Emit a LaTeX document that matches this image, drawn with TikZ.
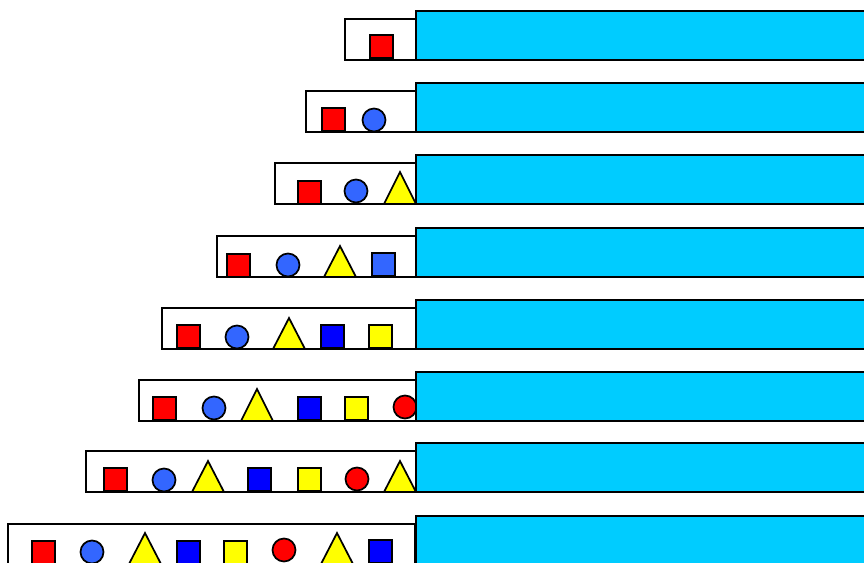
\documentclass[tikz,border=0pt]{standalone}
\definecolor{cyanbar}{HTML}{00CCFF}
\definecolor{ltblue}{HTML}{3366FF}
\definecolor{pureblue}{HTML}{0000FF}
\definecolor{pureyellow}{HTML}{FFFF00}
\definecolor{purered}{HTML}{FF0000}
\tikzset{
  framebox/.style={draw=black, fill=white, line width=1.5pt},
  bar/.style={draw=black, fill=cyanbar, line width=1.5pt},
  shp/.style={draw=black, line width=1.3pt, line join=miter},
}
\newcommand{\mysq}[3]{\draw[shp, fill=#3] (#1,#2) rectangle ++(23,23);}
\newcommand{\mycirc}[3]{\draw[shp, fill=#3] (#1,#2) circle[radius=11.5];}
\newcommand{\mytri}[3]{\draw[shp, fill=pureyellow] (#1,#2) -- (#1+16,#3) -- (#1-16,#3) -- cycle;}
\newcommand{\myrow}[4]{\draw[framebox] (#1,#2) rectangle (416,#3); \draw[bar] (416,#4) rectangle (880,#3);}
\begin{document}
\begin{tikzpicture}[x=0.75pt,y=-0.75pt]
\useasboundingbox (0,0) rectangle (864,562);
\clip (0,0) rectangle (864,562);
% row 1
\draw[framebox] (345,19) rectangle (416,60);
\mysq{370}{35}{purered}
\draw[bar] (416,11) rectangle (880,60);
% row 2
\draw[framebox] (306,91) rectangle (416,132);
\mysq{322}{108}{purered}
\mycirc{374}{120}{ltblue}
\draw[bar] (416,83) rectangle (880,132);
% row 3
\draw[framebox] (275,163) rectangle (416,204);
\mysq{298}{181}{purered}
\mycirc{356}{191}{ltblue}
\mytri{400}{172}{204}
\draw[bar] (416,155) rectangle (880,204);
% row 4
\draw[framebox] (217,236) rectangle (416,277);
\mysq{227}{254}{purered}
\mycirc{288}{265}{ltblue}
\mytri{340}{246}{277}
\mysq{372}{253}{ltblue}
\draw[bar] (416,228) rectangle (880,277);
% row 5
\draw[framebox] (162,308) rectangle (416,349);
\mysq{177}{325}{purered}
\mycirc{237}{337}{ltblue}
\mytri{289}{318}{349}
\mysq{321}{325}{pureblue}
\mysq{369}{325}{pureyellow}
\draw[bar] (416,300) rectangle (880,349);
% row 6
\draw[framebox] (139,380) rectangle (416,421);
\mysq{153}{397}{purered}
\mycirc{214}{408}{ltblue}
\mytri{257}{389}{421}
\mysq{298}{397}{pureblue}
\mysq{345}{397}{pureyellow}
\mycirc{405}{407}{purered}
\draw[bar] (416,372) rectangle (880,421);
% row 7
\draw[framebox] (86,451) rectangle (416,492);
\mysq{104}{468}{purered}
\mycirc{164}{480}{ltblue}
\mytri{208}{461}{492}
\mysq{248}{468}{pureblue}
\mysq{298}{468}{pureyellow}
\mycirc{357}{479}{purered}
\mytri{400}{461}{492}
\draw[bar] (416,443) rectangle (880,492);
% row 8
\draw[framebox] (8,524) rectangle (415,575);
\mysq{32}{541}{purered}
\mycirc{92}{552}{ltblue}
\mytri{145}{533}{564}
\mysq{177}{541}{pureblue}
\mysq{224}{541}{pureyellow}
\mycirc{284}{550}{purered}
\mytri{337}{533}{564}
\mysq{369}{540}{pureblue}
\draw[bar] (416,516) rectangle (880,580);
\end{tikzpicture}
\end{document}
